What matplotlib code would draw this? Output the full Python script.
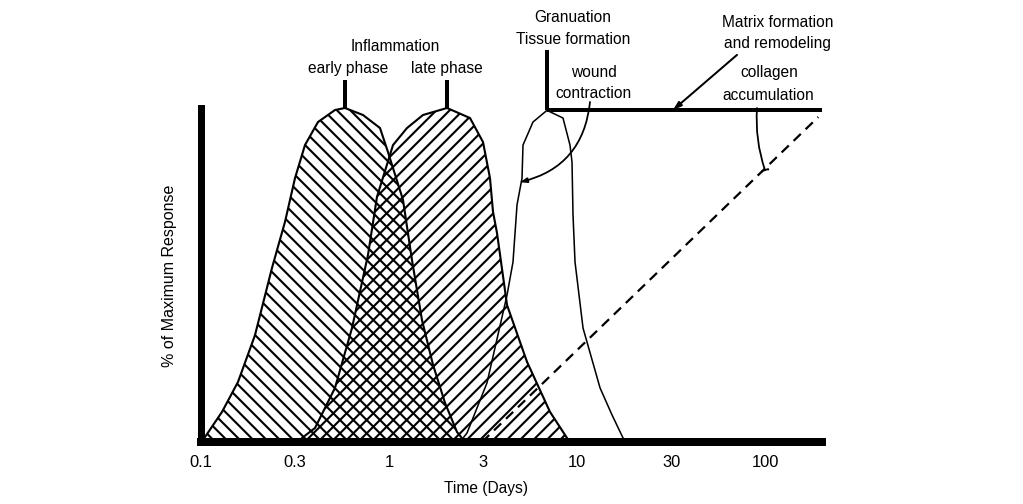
import matplotlib
matplotlib.use("Agg")
import matplotlib.pyplot as plt
import numpy as np

plt.rcParams['font.family'] = ['Liberation Sans', 'DejaVu Sans']
plt.rcParams['hatch.linewidth'] = 1.9
plt.rcParams['hatch.color'] = 'black'

# x axis ticks (days)
tick_days = [0.1, 0.3, 1, 3, 10, 30, 100]
tick_labels = ['0.1', '0.3', '1', '3', '10', '30', '100']

# inflammation, early phase (days, % of max response)
early_days = [0.100, 0.1048, 0.1278, 0.1541, 0.1879, 0.2291, 0.2667, 0.2998, 0.3406, 0.4023,
              0.5001, 0.5685, 0.7158, 0.8899, 0.9858, 1.0464, 1.176, 1.306, 1.468, 1.670,
              1.921, 2.210, 2.426]
early_pct = [0, 1.5, 9.0, 18.0, 32.0, 52.1, 65.9, 79.0, 88.9, 95.8,
             99.4, 100, 97.9, 94.0, 86.8, 82.0, 72.5, 54.5, 36.5, 23.1,
             11.7, 3.0, 0]

# inflammation, late phase
late_days = [0.3114, 0.3280, 0.3873, 0.5001, 0.6216, 0.7630, 0.8561, 1.0464, 1.232, 1.485,
             1.966, 2.572, 2.994, 3.273, 3.402, 3.580, 4.071, 5.257, 7.058, 8.770, 9.114]
late_pct = [0, 1.2, 4.2, 16.2, 34.1, 56.0, 73.4, 88.9, 94.0, 97.9,
            100, 97.0, 89.8, 79.0, 68.9, 62.6, 41.0, 24.0, 9.0, 1.2, 0]

# granulation tissue formation
gran_days = [2.289, 2.484, 3.150, 4.071, 4.394, 4.626, 4.931, 4.994, 5.675, 6.789,
             8.332, 9.114, 9.352, 9.472, 9.718, 10.70, 13.05, 15.01, 17.07, 17.67]
gran_pct = [0, 2.7, 17.7, 44.0, 53.9, 71.0, 79.0, 88.9, 95.8, 99.3,
            97.0, 88.9, 83.8, 68.0, 53.9, 34.1, 16.2, 8.1, 1.2, 0]

# collagen accumulation (dashed)
collagen_days = [2.959, 191.1]
collagen_pct = [0, 97.3]

# matrix formation and remodeling plateau
matrix_end_day = 200
matrix_pct = 99.3

# evenly spaced "log-like" axis: each labelled tick one step apart
knots_log = np.log10([0.01, 0.1, 0.3, 1, 3, 10, 30, 100, 1000])
knots_idx = [-2, 0, 1, 2, 3, 4, 5, 6, 8]


def fwd(x):
    x = np.asarray(x, dtype=float)
    return np.interp(np.log10(np.clip(x, 1e-6, None)), knots_log, knots_idx)


def inv(i):
    return 10 ** np.interp(np.asarray(i, dtype=float), knots_idx, knots_log)


fig = plt.figure(figsize=(1023 / 80, 504 / 80), dpi=80)
ax = fig.add_axes([201 / 1023, 62 / 504, 621 / 1023, 334 / 504])
ax.set_xscale('function', functions=(fwd, inv))
ax.set_xlim(0.1, 200)
ax.set_ylim(0, 100)

ax.fill(early_days, early_pct, facecolor='none', edgecolor='black', hatch='\\\\', lw=1.9, clip_on=False)
ax.fill(late_days, late_pct, facecolor='none', edgecolor='black', hatch='//', lw=1.9, clip_on=False)
ax.plot(gran_days, gran_pct, color='black', lw=1.4, clip_on=False)
ax.plot(collagen_days, collagen_pct, color='black', lw=2.0, ls=(0, (4.5, 3)), clip_on=False)

# peak markers
early_peak = early_days[int(np.argmax(early_pct))]
late_peak = late_days[int(np.argmax(late_pct))]
gran_peak = gran_days[int(np.argmax(gran_pct))]
for d in (early_peak, late_peak):
    ax.plot([d, d], [100, 108.4], color='black', lw=3.6, clip_on=False, solid_capstyle='butt')
ax.plot([gran_peak, gran_peak], [matrix_pct, 117.4], color='black', lw=3.6, clip_on=False,
        solid_capstyle='butt')
ax.plot([gran_peak, matrix_end_day], [matrix_pct, matrix_pct], color='black', lw=3.6,
        clip_on=False, solid_capstyle='butt')

fs = 14.0
labels = [
    ('Inflammation', 1.077, 117.2),
    ('early phase', 0.5906, 110.6),
    ('late phase', 1.966, 110.6),
    ('Granuation', 9.47, 125.8),
    ('Tissue formation', 9.53, 119.2),
    ('wound', 12.17, 109.4),
    ('contraction', 12.09, 102.9),
    ('Matrix formation', 116.0, 124.3),
    ('and remodeling', 115.3, 117.9),
    ('collagen', 104.6, 109.2),
    ('accumulation', 103.9, 102.4),
]
for s, x, y in labels:
    ax.text(x, y, s, ha='center', va='baseline', fontsize=fs, clip_on=False)

ax.annotate('', xy=(4.806, 77.8), xytext=(11.61, 101.8),
            arrowprops=dict(arrowstyle='-|>,head_length=0.5,head_width=0.18', color='black', lw=1.6,
                            connectionstyle='arc3,rad=-0.35', shrinkA=0, shrinkB=0))
ax.annotate('', xy=(30.66, 99.4), xytext=(69.56, 115.9),
            arrowprops=dict(arrowstyle='-|>,head_length=0.6,head_width=0.2', color='black', lw=1.8,
                            shrinkA=0, shrinkB=0))
ax.annotate('', xy=(99.5, 81.4), xytext=(89.85, 100),
            arrowprops=dict(arrowstyle='-[,widthB=0.3,lengthB=0.05', color='black', lw=1.6,
                            connectionstyle='arc3,rad=0.1', shrinkA=0, shrinkB=0))

for side in ('top', 'right'):
    ax.spines[side].set_visible(False)
ax.spines['left'].set_linewidth(6.3)
ax.spines['bottom'].set_linewidth(7.2)
ax.set_yticks([])
ax.set_xticks(tick_days, tick_labels)
ax.tick_params(axis='x', length=0, pad=12, labelsize=14.8)

ax.set_xlabel('Time (Days)', fontsize=fs)
ax.xaxis.set_label_coords((486 - 201) / 621, (442 - 481) / 334)
ax.set_ylabel('% of Maximum Response', fontsize=14.4)
ax.yaxis.set_label_coords((177 - 201) / 621, (442 - 276) / 334)

fig.savefig('out.png', dpi=80)
